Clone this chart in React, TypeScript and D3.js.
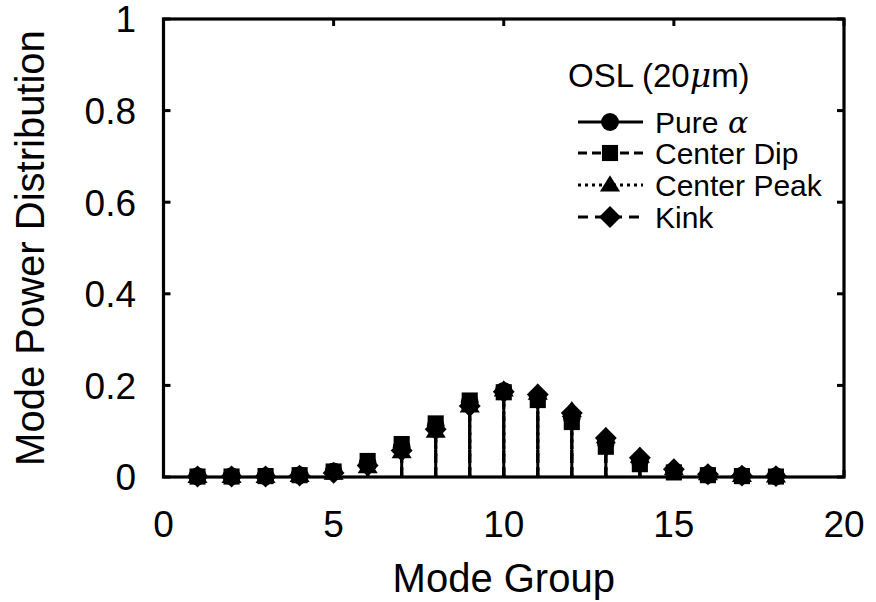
import React from "react";
import * as d3 from "d3";

// Mode groups 1..18
const modeGroups = [1, 2, 3, 4, 5, 6, 7, 8, 9, 10, 11, 12, 13, 14, 15, 16, 17, 18];

// Mode power distribution per profile
const pureAlpha = [0.002, 0.002, 0.002, 0.004, 0.012, 0.03, 0.065, 0.112, 0.163, 0.188, 0.175, 0.13, 0.075, 0.035, 0.013, 0.005, 0.003, 0.002];
const centerDip = [0.001, 0.001, 0.002, 0.004, 0.012, 0.035, 0.072, 0.117, 0.167, 0.185, 0.168, 0.12, 0.066, 0.028, 0.01, 0.004, 0.002, 0.001];
const centerPeak = [0.001, 0.001, 0.001, 0.003, 0.008, 0.022, 0.055, 0.1, 0.155, 0.19, 0.183, 0.145, 0.088, 0.045, 0.018, 0.007, 0.003, 0.002];
const kink = [0.001, 0.001, 0.001, 0.003, 0.009, 0.025, 0.058, 0.104, 0.155, 0.186, 0.18, 0.14, 0.085, 0.042, 0.017, 0.006, 0.003, 0.002];

const xTicks = [0, 5, 10, 15, 20];
const yTicks = [0, 0.2, 0.4, 0.6, 0.8, 1];
const yTickLabels = ["0", "0.2", "0.4", "0.6", "0.8", "1"];

// Square-on-point diamond: size is the area of the equivalent square
const wideDiamond: d3.SymbolType = {
  draw(ctx, size) {
    const r = Math.sqrt(size / 2);
    ctx.moveTo(0, -r);
    ctx.lineTo(r, 0);
    ctx.lineTo(0, r);
    ctx.lineTo(-r, 0);
    ctx.closePath();
  },
};

// Upward triangle, half-width w, centred on the point
const flatTriangle: d3.SymbolType = {
  draw(ctx, size) {
    const w = Math.sqrt(size) * 0.75;
    const h = w * 1.6;
    ctx.moveTo(0, -h * 0.6);
    ctx.lineTo(w, h * 0.4);
    ctx.lineTo(-w, h * 0.4);
    ctx.closePath();
  },
};

type Series = { name: string; values: number[]; symbol: d3.SymbolType; size: number; dash: string };

const series: Series[] = [
  { name: "Pure", values: pureAlpha, symbol: d3.symbolCircle, size: 250, dash: "none" },
  { name: "Center Dip", values: centerDip, symbol: d3.symbolSquare, size: 260, dash: "9,5" },
  { name: "Center Peak", values: centerPeak, symbol: flatTriangle, size: 180, dash: "3,4" },
  { name: "Kink", values: kink, symbol: wideDiamond, size: 240, dash: "10,7" },
];

const W = 876;
const H = 602;
const left = 163.5;
const right = 844;
const top = 19;
const bottom = 477;

const FONT = "'Liberation Sans', Arial, Helvetica, sans-serif";

export default function App() {
  const x = d3.scaleLinear().domain([0, 20]).range([left, right]);
  const y = d3.scaleLinear().domain([0, 1]).range([bottom, top]);
  const tickLen = 7;

  const legendX0 = 578;
  const legendX1 = 643;
  const legendMx = 610;
  const legendTextX = 655;
  const legendRows = [122, 153, 185, 217];

  return (
    <svg width={W} height={H} style={{ position: "absolute", left: 0, top: 0, background: "#fff" }} fontFamily={FONT}>
      <rect width={W} height={H} fill="#fff" />
      {/* stems and markers */}
      {series.map((s) => (
        <g key={s.name}>
          {s.values.map((v, i) => (
            <line
              key={"l" + i}
              x1={x(modeGroups[i])}
              x2={x(modeGroups[i])}
              y1={y(0)}
              y2={y(v)}
              stroke="#000"
              strokeWidth={3}
              strokeDasharray={s.dash}
            />
          ))}
          {s.values.map((v, i) => (
            <path
              key={"m" + i}
              d={d3.symbol().type(s.symbol).size(s.size)() || ""}
              transform={`translate(${x(modeGroups[i])},${y(v)})`}
              fill="#000"
            />
          ))}
        </g>
      ))}

      {/* frame */}
      <rect x={left} y={top} width={right - left} height={bottom - top} fill="none" stroke="#000" strokeWidth={3.2} />

      {/* x ticks */}
      {xTicks.map((t) => (
        <g key={"xt" + t}>
          <line x1={x(t)} x2={x(t)} y1={bottom} y2={bottom - tickLen} stroke="#000" strokeWidth={3} />
          <line x1={x(t)} x2={x(t)} y1={top} y2={top + tickLen} stroke="#000" strokeWidth={3} />
          <text x={x(t)} y={537} textAnchor="middle" fontSize={37} fill="#000">
            {t}
          </text>
        </g>
      ))}

      {/* y ticks */}
      {yTicks.map((t, i) => (
        <g key={"yt" + t}>
          <line x1={left} x2={left + tickLen} y1={y(t)} y2={y(t)} stroke="#000" strokeWidth={3} />
          <line x1={right} x2={right - tickLen} y1={y(t)} y2={y(t)} stroke="#000" strokeWidth={3} />
          <text x={136} y={y(t)} dy="0.36em" textAnchor="end" fontSize={37} fill="#000">
            {yTickLabels[i]}
          </text>
        </g>
      ))}

      {/* axis titles */}
      <text x={(left + right) / 2} y={592} textAnchor="middle" fontSize={40} fill="#000">
        Mode Group
      </text>
      <text
        transform={`translate(44,${(top + bottom) / 2}) rotate(-90)`}
        textAnchor="middle"
        fontSize={40}
        fill="#000"
      >
        Mode Power Distribution
      </text>

      {/* legend */}
      <text x={568} y={87} fontSize={33} fill="#000">
        OSL (20<tspan fontFamily="'DejaVu Serif', serif" fontStyle="italic">μ</tspan>m)
      </text>
      {series.map((s, i) => (
        <g key={"lg" + s.name}>
          <line
            x1={legendX0}
            x2={legendX1}
            y1={legendRows[i]}
            y2={legendRows[i]}
            stroke="#000"
            strokeWidth={3}
            strokeDasharray={s.dash}
          />
          <path
            d={d3.symbol().type(s.symbol).size(s.size)() || ""}
            transform={`translate(${legendMx},${legendRows[i]})`}
            fill="#000"
          />
          <text x={legendTextX} y={legendRows[i]} dy="0.36em" fontSize={30} fill="#000">
            {s.name}
            {i === 0 ? (
              <tspan fontFamily="'DejaVu Serif', serif" fontStyle="italic">
                {" α"}
              </tspan>
            ) : null}
          </text>
        </g>
      ))}
    </svg>
  );
}
